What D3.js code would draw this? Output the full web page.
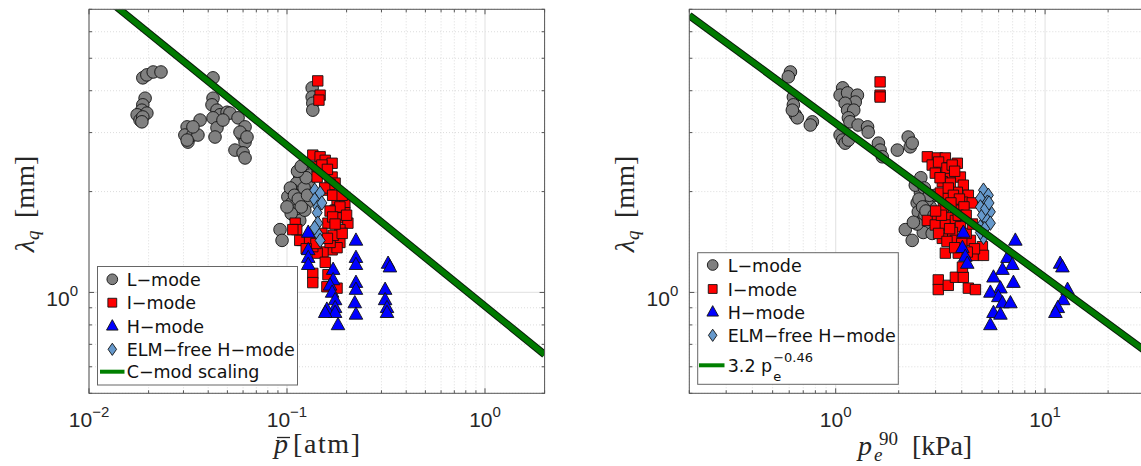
<!DOCTYPE html>
<html>
<head>
<meta charset="utf-8">
<script src="https://cdn.jsdelivr.net/npm/d3@7"></script>
<style>
body { margin: 0; background: #fff; }
svg { display: block; }
</style>
</head>
<body>
<svg id="chart" width="1141" height="466"></svg>
<script>
// ---- data: [pressure, lambda_q (mm)] ----
// left panel: pbar [atm]
var leftL = [[0.0187,4.37],[0.0196,4.46],[0.0211,4.55],[0.0231,4.55],[0.0192,3.80],[0.0187,3.63],[0.0185,3.50],
  [0.0175,3.39],[0.0181,3.27],[0.0196,3.43],[0.0187,3.34],[0.0185,3.23],[0.0313,3.12],[0.0305,2.95],[0.0316,2.81],
  [0.0335,2.95],[0.0355,2.95],[0.0364,3.27],[0.0335,3.12],[0.0313,2.85],[0.0423,4.37],[0.0423,3.80],[0.0418,3.63],
  [0.0443,3.50],[0.0459,3.39],[0.0423,3.32],[0.0443,3.10],[0.0433,2.91],[0.0498,3.45],[0.0515,3.43],[0.0475,3.27],
  [0.0566,3.32],[0.0614,3.12],[0.0593,2.95],[0.0614,2.81],[0.0546,2.66],[0.0600,2.61],[0.0614,2.52],[0.0579,3.01],
  [0.0628,2.91],[0.134,4.08],[0.134,3.83],[0.135,3.67],[0.135,3.50],[0.120,2.32],[0.116,2.21],[0.112,2.12],
  [0.107,2.02],[0.101,1.93],[0.106,1.85],[0.112,1.76],[0.110,1.68],[0.116,1.64],[0.126,1.85],[0.120,1.98],
  [0.128,2.12],[0.131,2.24],[0.123,1.76],[0.0922,1.54],[0.0944,1.43],[0.104,2.05],[0.109,1.95],[0.114,1.90],
  [0.118,1.80],[0.122,2.05],[0.125,2.20],[0.127,1.95],[0.105,1.72],[0.100,1.80],[0.113,2.30],[0.118,2.38]];
var leftI = [[0.143,4.28],[0.147,3.88],[0.145,3.75],[0.135,2.57],[0.147,2.54],[0.156,2.48],[0.169,2.43],[0.142,2.37],
  [0.152,2.27],[0.169,2.21],[0.142,2.21],[0.175,2.12],[0.161,2.02],[0.179,1.89],[0.196,1.85],[0.175,1.76],
  [0.196,1.73],[0.185,1.67],[0.203,1.61],[0.161,1.61],[0.185,1.54],[0.175,1.46],[0.185,1.41],[0.169,1.34],
  [0.152,1.32],[0.142,1.31],[0.156,1.23],[0.110,1.61],[0.112,1.54],[0.119,1.43],[0.135,1.37],[0.179,1.36],
  [0.165,1.41],[0.135,1.14],[0.135,1.07],[0.161,1.13],[0.179,1.03],[0.159,1.04],[0.171,1.48],[0.107,1.54],
  [0.116,1.43],[0.150,2.40],[0.160,2.33],[0.165,2.10],[0.155,2.05],[0.170,1.95],[0.190,1.95],[0.185,1.80],
  [0.165,1.75],[0.170,1.68],[0.150,1.50],[0.160,1.45],[0.190,1.50],[0.175,1.60],[0.200,1.70],[0.130,1.45],
  [0.140,1.40],[0.125,1.35]];
var leftH = [[0.128,1.51],[0.128,1.34],[0.128,1.27],[0.128,1.21],[0.171,1.17],[0.171,1.09],[0.165,1.05],[0.169,1.00],
  [0.175,0.95],[0.175,0.90],[0.159,0.89],[0.175,0.87],[0.156,0.87],[0.181,0.80],[0.223,1.43],[0.223,1.27],
  [0.223,1.21],[0.223,1.07],[0.223,1.02],[0.220,0.93],[0.223,0.86],[0.324,1.22],[0.331,1.19],[0.313,1.02],
  [0.313,0.95],[0.320,0.90],[0.320,0.87]];
var leftE = [[0.138,2.02],[0.147,1.98],[0.138,1.89],[0.143,1.80],[0.150,1.85],[0.142,1.73],[0.143,1.61],[0.143,1.50],
  [0.147,1.43],[0.138,1.56]];
var leftFit = [0.91, -0.48];   // lambda = c * p^a

// right panel: p_e^90 [kPa]
var rightL = [[0.608,4.55],[0.594,4.40],[0.628,3.83],[0.628,3.63],[0.642,3.39],[0.656,3.32],[0.774,3.23],[0.757,3.16],
  [0.621,3.50],[1.08,4.08],[1.05,3.88],[1.14,3.94],[1.27,3.88],[1.24,3.70],[1.11,3.67],[1.14,3.50],[1.22,3.50],
  [1.15,3.32],[1.17,3.23],[1.28,3.16],[1.42,3.12],[1.43,3.01],[1.05,2.95],[1.08,2.85],[1.11,2.79],[1.15,2.85],
  [1.60,2.79],[1.63,2.66],[1.67,2.54],[1.97,2.66],[2.22,2.91],[2.27,2.72],[2.32,2.79],[2.54,1.98],[2.45,1.85],
  [2.48,1.74],[2.59,1.64],[2.74,1.57],[2.83,1.80],[2.74,1.89],[2.15,1.54],[2.32,1.43],[2.62,1.51],[2.89,1.50],
  [2.40,2.09],[2.67,1.70],[2.99,1.95],[2.55,2.20],[2.65,2.05],[2.80,1.95],[2.50,1.90],[2.60,1.80],[2.85,1.65],
  [2.70,1.75],[2.95,1.70],[2.45,1.60],[2.35,1.62]];
var rightI = [[1.63,4.25],[1.63,3.88],[1.63,3.83],[2.74,2.54],[3.06,2.52],[3.34,2.52],[3.81,2.43],[2.89,2.40],
  [3.23,2.35],[2.99,2.27],[3.53,2.27],[3.94,2.21],[3.23,2.14],[3.53,2.12],[4.07,2.09],[3.81,1.99],[3.16,1.98],
  [4.30,1.95],[3.45,1.91],[4.03,1.86],[4.49,1.85],[3.27,1.80],[3.73,1.76],[2.74,1.64],[3.06,1.68],[3.45,1.67],
  [2.99,1.59],[3.34,1.59],[3.73,1.64],[3.94,1.57],[3.61,1.51],[3.23,1.45],[3.73,1.43],[4.40,1.43],[5.02,1.37],
  [3.34,1.31],[3.85,1.31],[4.54,1.29],[5.08,1.29],[3.09,1.09],[3.09,1.02],[3.45,1.05],[3.73,1.11],[4.07,1.11],
  [4.30,1.03],[4.65,1.02],[4.03,1.19],[3.10,2.45],[3.40,2.35],[3.60,2.40],[3.70,2.30],[3.15,2.20],[3.45,2.05],
  [3.65,1.95],[3.90,1.90],[4.10,1.80],[3.55,1.85],[3.85,1.70],[4.20,1.70],[3.20,1.70],[3.00,1.75],[3.50,1.55],
  [4.20,1.50],[4.50,1.60],[3.10,1.50],[3.40,1.42],[4.00,1.40],[4.60,1.35],[3.70,1.36],[4.25,1.32]];
var rightH = [[4.07,1.51],[4.03,1.36],[4.16,1.28],[4.25,1.22],[7.21,1.43],[6.61,1.27],[6.98,1.21],[6.26,1.17],
  [5.67,1.11],[7.06,1.07],[6.12,1.03],[5.48,1.00],[5.98,0.97],[6.26,0.93],[6.83,0.93],[5.67,0.87],[6.12,0.86],
  [5.48,0.80],[11.8,1.22],[12.1,1.19],[12.2,0.95],[11.5,0.90],[11.2,0.87],[12.8,1.02]];
var rightE = [[5.08,2.02],[5.36,1.95],[4.91,1.91],[5.30,1.86],[4.91,1.80],[5.48,1.74],[5.02,1.70],[5.30,1.64],
  [4.91,1.57],[5.48,1.61],[5.08,1.46],[4.91,1.51],[5.20,1.78],[5.15,1.55],[5.40,1.85]];
var rightFit = [3.2, -0.46];

// axes
var yDomain = [0.5, 7];
var yMinor = [0.5, 0.6, 0.7, 0.8, 0.9, 2, 3, 4, 5, 6, 7];
var leftXDomain = [0.01, 2];
var leftXMajor = [0.01, 0.1, 1];
var leftXExp = ["\u22122", "\u22121", "0"];
var leftXMinor = [0.02,0.03,0.04,0.05,0.06,0.07,0.08,0.09,0.2,0.3,0.4,0.5,0.6,0.7,0.8,0.9,2];
var rightXDomain = [0.2, 30];
var rightXMajor = [1, 10];
var rightXExp = ["0", "1"];
var rightXMinor = [0.2,0.3,0.4,0.5,0.6,0.7,0.8,0.9,2,3,4,5,6,7,8,9,20,30];

var legendNames = ["L\u2212mode", "I\u2212mode", "H\u2212mode", "ELM\u2212free H\u2212mode"];

var styles = {
  L: { shape: "circle", fill: "#808080" },
  I: { shape: "square", fill: "#ff0000" },
  H: { shape: "triangle", fill: "#0000ff" },
  E: { shape: "diamond", fill: "#6699cc" }
};

var svg = d3.select("#chart");
svg.append("rect").attr("width", 1141).attr("height", 466).attr("fill", "#fff");

function shapePath(type, k) {
  if (type === "circle") {
    var r = 6.3 * k;
    return "M" + r + ",0A" + r + "," + r + " 0 1,1 " + (-r) + ",0A" + r + "," + r + " 0 1,1 " + r + ",0Z";
  }
  if (type === "square") {
    var s = 5.2 * k;
    return "M" + (-s) + "," + (-s) + "H" + s + "V" + s + "H" + (-s) + "Z";
  }
  if (type === "triangle") {
    return "M0," + (-7.5 * k) + "L" + (6.8 * k) + "," + (4.8 * k) + "L" + (-6.8 * k) + "," + (4.8 * k) + "Z";
  }
  return "M0," + (-7.2 * k) + "L" + (5 * k) + ",0L0," + (7.2 * k) + "L" + (-5 * k) + ",0Z";
}

function drawPanel(o) {
  var top = 9.3, bottom = 393.3;
  var x = d3.scaleLog().domain(o.xDomain).range([o.left, o.right]);
  var y = d3.scaleLog().domain(yDomain).range([bottom, top]);
  var g = svg.append("g");

  svg.append("clipPath").attr("id", o.id + "clip")
    .append("rect").attr("x", o.left).attr("y", top)
    .attr("width", o.right - o.left).attr("height", bottom - top);

  // grid
  var grid = g.append("g");
  grid.selectAll(".gx").data(o.xMinor).enter().append("line")
    .attr("x1", d => x(d)).attr("x2", d => x(d)).attr("y1", top).attr("y2", bottom)
    .attr("stroke", "#d4d4d4").attr("stroke-width", 0.8).attr("stroke-dasharray", "1,2");
  grid.selectAll(".gy").data(yMinor).enter().append("line")
    .attr("y1", d => y(d)).attr("y2", d => y(d)).attr("x1", o.left).attr("x2", o.right)
    .attr("stroke", "#d4d4d4").attr("stroke-width", 0.8).attr("stroke-dasharray", "1,2");
  grid.selectAll(".gX").data(o.xMajor).enter().append("line")
    .attr("x1", d => x(d)).attr("x2", d => x(d)).attr("y1", top).attr("y2", bottom)
    .attr("stroke", "#e6e6e6").attr("stroke-width", 1.2);
  grid.append("line")
    .attr("y1", y(1)).attr("y2", y(1)).attr("x1", o.left).attr("x2", o.right)
    .attr("stroke", "#e6e6e6").attr("stroke-width", 1.2);

  // scatter
  var pts = g.append("g").attr("clip-path", "url(#" + o.id + "clip)");
  o.series.forEach(function(s) {
    pts.selectAll(null).data(s.data).enter().append("path")
      .attr("d", shapePath(styles[s.key].shape, 1))
      .attr("transform", d => "translate(" + x(d[0]) + "," + y(d[1]) + ")")
      .attr("fill", styles[s.key].fill)
      .attr("stroke", "#111").attr("stroke-width", 0.9);
  });

  // fit line (straight in log-log)
  var line = d3.line().x(d => x(d)).y(d => y(o.fit[0] * Math.pow(d, o.fit[1])));
  var lg = g.append("g").attr("clip-path", "url(#" + o.id + "clip)");
  lg.append("path").attr("d", line(o.xDomain)).attr("stroke", "#0a1a0a").attr("stroke-width", 7.5).attr("fill", "none");
  lg.append("path").attr("d", line(o.xDomain)).attr("stroke", "#007a00").attr("stroke-width", 5.5).attr("fill", "none");

  // frame and ticks
  var ax = g.append("g").attr("stroke", "#555").attr("stroke-width", 1).attr("fill", "none");
  ax.append("rect").attr("x", o.left).attr("y", top).attr("width", o.right - o.left).attr("height", bottom - top);
  o.xMinor.forEach(function(d) {
    ax.append("line").attr("x1", x(d)).attr("x2", x(d)).attr("y1", bottom).attr("y2", bottom - 3);
    ax.append("line").attr("x1", x(d)).attr("x2", x(d)).attr("y1", top).attr("y2", top + 3);
  });
  o.xMajor.forEach(function(d) {
    ax.append("line").attr("x1", x(d)).attr("x2", x(d)).attr("y1", bottom).attr("y2", bottom - 5);
    ax.append("line").attr("x1", x(d)).attr("x2", x(d)).attr("y1", top).attr("y2", top + 5);
  });
  yMinor.concat([1]).forEach(function(d) {
    var len = d === 1 ? 5 : 3;
    ax.append("line").attr("y1", y(d)).attr("y2", y(d)).attr("x1", o.left).attr("x2", o.left + len);
    ax.append("line").attr("y1", y(d)).attr("y2", y(d)).attr("x1", o.right).attr("x2", o.right - len);
  });

  // tick labels
  var tl = g.append("g").attr("font-family", "'Liberation Sans', Arial, sans-serif").attr("fill", "#262626");
  o.xMajor.forEach(function(d, i) {
    var t = tl.append("text").attr("x", x(d)).attr("y", 427).attr("text-anchor", "middle").attr("font-size", 21);
    t.append("tspan").text("10");
    t.append("tspan").attr("dy", -10).attr("font-size", 15).text(o.xExp[i]);
  });
  var yt = tl.append("text").attr("x", o.left - 11).attr("y", y(1) + 14).attr("text-anchor", "end").attr("font-size", 21);
  yt.append("tspan").text("10");
  yt.append("tspan").attr("dy", -10).attr("font-size", 15).text("0");

  // y label
  var yl = g.append("text").attr("transform", "translate(" + o.yLabelX + ",204) rotate(-90)")
    .attr("text-anchor", "middle").attr("font-family", "'Liberation Serif', 'Times New Roman', serif")
    .attr("font-size", 28).attr("fill", "#262626");
  yl.append("tspan").attr("font-style", "italic").text("\u03bb");
  yl.append("tspan").attr("font-style", "italic").attr("font-size", 19).attr("dy", 5).text("q");
  yl.append("tspan").attr("dy", -5).text("\u2009 [mm]");

  // legend
  var L = o.legend;
  var lgd = g.append("g");
  lgd.append("rect").attr("x", L.x0).attr("y", L.y0).attr("width", L.x1 - L.x0).attr("height", L.y1 - L.y0)
    .attr("fill", "#fff").attr("stroke", "#666").attr("stroke-width", 1);
  o.series.forEach(function(s, i) {
    lgd.append("path").attr("d", shapePath(styles[s.key].shape, 0.85))
      .attr("transform", "translate(" + L.mx + "," + L.rows[i] + ")")
      .attr("fill", styles[s.key].fill).attr("stroke", "#111").attr("stroke-width", 0.9);
    lgd.append("text").attr("x", L.tx).attr("y", L.rows[i] + 6.5)
      .attr("font-family", "'DejaVu Sans', sans-serif").attr("font-size", 17.5).attr("fill", "#111")
      .text(legendNames[i]);
  });
  lgd.append("line").attr("x1", L.lx0).attr("x2", L.lx1).attr("y1", L.rows[4]).attr("y2", L.rows[4])
    .attr("stroke", "#008000").attr("stroke-width", 4);
  var last = lgd.append("text").attr("x", L.tx).attr("y", L.rows[4] + 6.5)
    .attr("font-family", "'DejaVu Sans', sans-serif").attr("font-size", 17.5).attr("fill", "#111");
  return last;
}

// left panel
var lastL = drawPanel({
  id: "pl", left: 89, right: 544.6, xDomain: leftXDomain, xMajor: leftXMajor, xExp: leftXExp, xMinor: leftXMinor,
  fit: leftFit, yLabelX: 34,
  series: [{ key: "L", data: leftL }, { key: "I", data: leftI }, { key: "H", data: leftH }, { key: "E", data: leftE }],
  legend: { x0: 97.5, x1: 297.5, y0: 266.5, y1: 385, mx: 112.3, tx: 126.7, lx0: 100, lx1: 124.5,
            rows: [279.3, 302.7, 326, 349.3, 371.7] }
});
lastL.text("C\u2212mod scaling");

// right panel
var lastR = drawPanel({
  id: "pr", left: 689.3, right: 1145, xDomain: rightXDomain, xMajor: rightXMajor, xExp: rightXExp, xMinor: rightXMinor,
  fit: rightFit, yLabelX: 634,
  series: [{ key: "L", data: rightL }, { key: "I", data: rightI }, { key: "H", data: rightH }, { key: "E", data: rightE }],
  legend: { x0: 697.7, x1: 898.3, y0: 252.7, y1: 384.3, mx: 712.7, tx: 727.7, lx0: 699, lx1: 724.5,
            rows: [265, 289, 312, 335.3, 365.3] }
});
lastR.text("3.2 p");
var lx = 727.7 + lastR.node().getComputedTextLength() + 1;
svg.append("text").attr("x", lx).attr("y", 381).attr("font-family", "'DejaVu Sans', sans-serif")
  .attr("font-size", 13).attr("fill", "#111").text("e");
svg.append("text").attr("x", lx).attr("y", 362).attr("font-family", "'DejaVu Sans', sans-serif")
  .attr("font-size", 13).attr("fill", "#111").text("\u22120.46");

// x labels (LaTeX-like)
var serif = "'Liberation Serif', 'Times New Roman', serif";
var xl = svg.append("g").attr("font-family", serif).attr("font-size", 28).attr("fill", "#262626");
xl.append("text").attr("x", 274).attr("y", 453).attr("font-style", "italic").text("p");
xl.append("line").attr("x1", 277).attr("x2", 290).attr("y1", 437.5).attr("y2", 437.5)
  .attr("stroke", "#262626").attr("stroke-width", 1.3);
xl.append("text").attr("x", 293).attr("y", 453).attr("textLength", 67).attr("lengthAdjust", "spacing").text("[atm]");

xl.append("text").attr("x", 858).attr("y", 455).attr("font-style", "italic").text("p");
xl.append("text").attr("x", 874).attr("y", 461).attr("font-style", "italic").attr("font-size", 19).text("e");
xl.append("text").attr("x", 879).attr("y", 445).attr("font-size", 19).text("90");
xl.append("text").attr("x", 912).attr("y", 455).attr("textLength", 60).attr("lengthAdjust", "spacing").text("[kPa]");
</script>
</body>
</html>
